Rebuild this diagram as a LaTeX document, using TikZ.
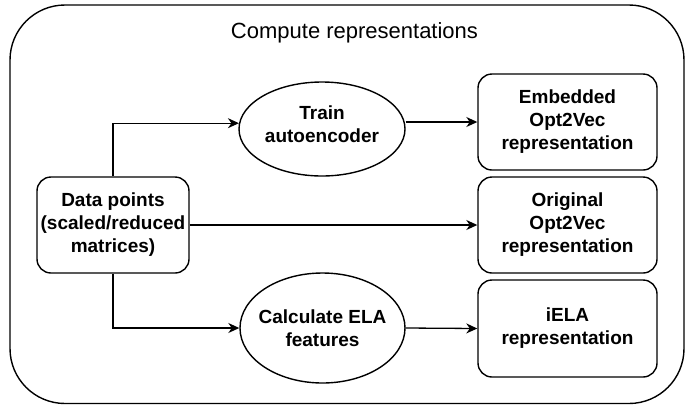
\documentclass[tikz,border=0pt]{standalone}
\usepackage{fontspec}
\setmainfont{Liberation Sans}
\usetikzlibrary{shapes.geometric,arrows.meta,calc}
\begin{document}
\begin{tikzpicture}[x=1pt,y=-1pt,line width=1.4pt,
  txt/.style={font=\fontsize{19}{23}\selectfont\bfseries,align=center,inner sep=0pt},
  rbox/.style={txt,draw,rounded corners=14pt,minimum width=179pt,minimum height=96pt},
  ell/.style={draw,ellipse,inner sep=0pt},
  arr/.style={-{Stealth[length=11pt,width=10pt,inset=3.5pt]},line width=1.3pt}]
\useasboundingbox (0,0) rectangle (687,405);
\draw[rounded corners=55pt] (10,5) rectangle (684,403.5);
\node[font=\fontsize{22}{26}\selectfont,inner sep=0pt] (title) at (354.5,33) {Compute representations};
\node[rbox,minimum width=152pt,minimum height=96pt] (dp) at (113,225) {Data points\\(scaled/reduced\\matrices)};
\node[ell,minimum width=166pt,minimum height=94pt] (train) at (322,129) {};
\node[txt] (traint) at (322,124) {Train\\autoencoder};
\node[ell,minimum width=165pt,minimum height=110pt] (calc) at (322.5,328) {};
\node[txt] (calct) at (calc) {Calculate ELA\\features};
\node[rbox] (emb) at (567.5,122) {Embedded\\Opt2Vec\\representation};
\node[rbox] (orig) at (567.5,225) {Original\\Opt2Vec\\representation};
\node[rbox,minimum height=97pt] (iela) at (567.5,328.5) {iELA\\representation};
\draw[arr] (dp.north) |- (train.176);
\draw[arr] (train.east |- emb.west) -- (emb.west);
\draw[arr] (dp.east) -- (orig.west);
\draw[arr] (dp.south) |- (calc.west);
\draw[arr] (calc.east) -- (iela.west);
\end{tikzpicture}
\end{document}
